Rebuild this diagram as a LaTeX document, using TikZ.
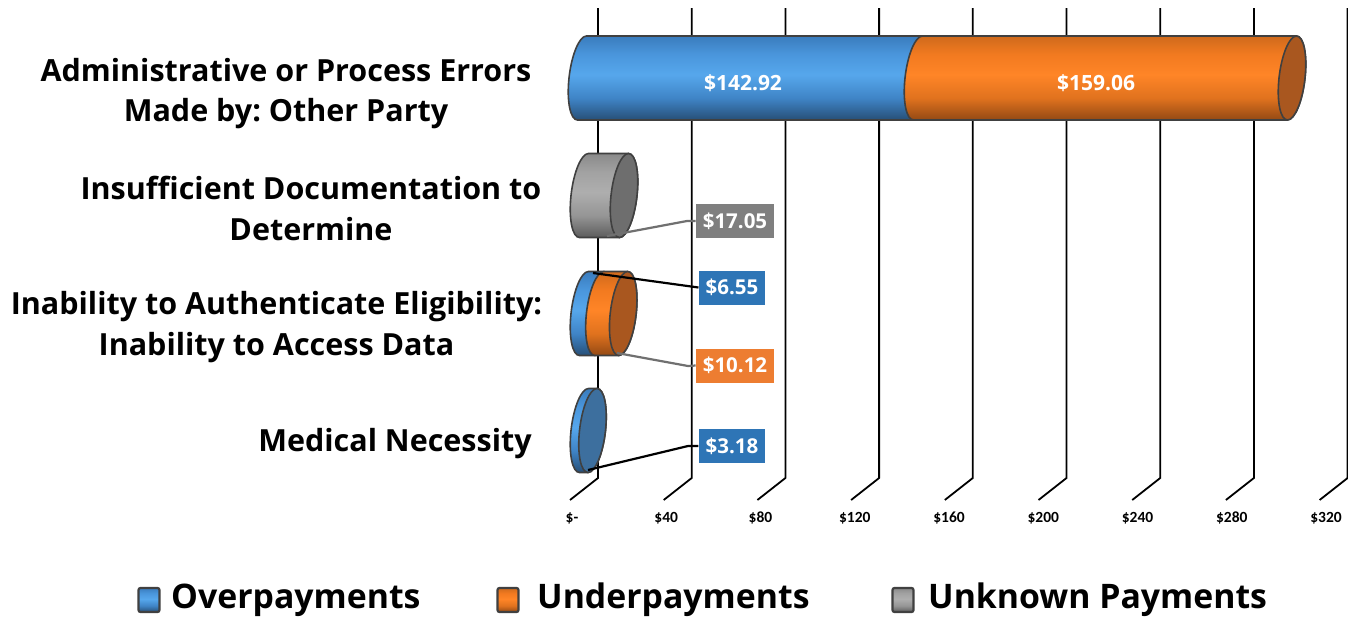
\documentclass[tikz,border=0pt]{standalone}
\usepackage{fontspec}
\setmainfont{Open Sans}
\newfontfamily\axisfont{Carlito}
\frenchspacing
\definecolor{blueTop}{HTML}{3A7CBD}
\definecolor{blueUp}{HTML}{4A96DC}
\definecolor{blueMid}{HTML}{56A7EC}
\definecolor{blueLow}{HTML}{3F84C6}
\definecolor{blueBot}{HTML}{274F77}
\definecolor{blueEnd}{HTML}{3D6F9E}
\definecolor{orTop}{HTML}{CF6A1C}
\definecolor{orUp}{HTML}{F27A20}
\definecolor{orMid}{HTML}{FF8527}
\definecolor{orLow}{HTML}{E0721E}
\definecolor{orBot}{HTML}{934914}
\definecolor{orEnd}{HTML}{A9571F}
\definecolor{grTop}{HTML}{8A8A8A}
\definecolor{grUp}{HTML}{A2A2A2}
\definecolor{grMid}{HTML}{AEAEAE}
\definecolor{grLow}{HTML}{959595}
\definecolor{grBot}{HTML}{5C5C5C}
\definecolor{grEnd}{HTML}{6E6E6E}
\definecolor{edge}{HTML}{404040}
\definecolor{lblBlue}{HTML}{2E75B6}
\definecolor{lblOr}{HTML}{ED7D31}
\definecolor{lblGray}{HTML}{7F7F7F}
\definecolor{leadGray}{HTML}{707070}
% vertical profiles of the cylinder bodies (path box spans 25bp..75bp)
\pgfdeclareverticalshading{bluecyl}{100bp}{color(0bp)=(blueBot); color(25bp)=(blueBot); color(38bp)=(blueLow); color(52bp)=(blueMid); color(64bp)=(blueUp); color(75bp)=(blueTop); color(100bp)=(blueTop)}
\pgfdeclareverticalshading{orcyl}{100bp}{color(0bp)=(orBot); color(25bp)=(orBot); color(38bp)=(orLow); color(52bp)=(orMid); color(64bp)=(orUp); color(75bp)=(orTop); color(100bp)=(orTop)}
\pgfdeclareverticalshading{grcyl}{100bp}{color(0bp)=(grBot); color(25bp)=(grBot); color(38bp)=(grLow); color(52bp)=(grMid); color(64bp)=(grUp); color(75bp)=(grTop); color(100bp)=(grTop)}
\tikzset{
  seg/.style={draw=edge, line width=1.6pt, line join=round},
  bluebody/.style={seg, shading=bluecyl},
  orbody/.style={seg, shading=orcyl},
  grbody/.style={seg, shading=grcyl},
  gridline/.style={line width=1.8pt, black},
  catlabel/.style={align=center, font=\bfseries\fontsize{30.5}{40.5}\selectfont, inner sep=0pt},
  barval/.style={text=white, font=\bfseries\fontsize{21}{24}\selectfont, inner sep=0pt},
  boxval/.style={text=white, font=\bfseries\fontsize{20.5}{22}\selectfont, inner xsep=7pt, inner ysep=0pt, minimum height=34pt},
  axlabel/.style={font=\axisfont\bfseries\fontsize{15.5}{18}\selectfont, inner sep=0pt},
  leader/.style={line width=2.2pt},
  legbox/.style={draw=edge, line width=2.2pt, rounded corners=2pt, minimum width=21pt, minimum height=24pt, inner sep=0pt},
  legtext/.style={anchor=west, font=\bfseries\fontsize{33.8}{38}\selectfont, inner sep=0pt}
}
% one cylinder segment between end-centres #1 and #2, style #3
\newcommand\cylpiece[3]{%
  \path[#3] (#1,-42) arc[start angle=270, end angle=90, x radius=13, y radius=42]
    -- (#2,42) arc[start angle=90, end angle=-90, x radius=13, y radius=42] -- cycle;}
\newcommand\cylcap[2]{%
  \path[seg, fill=#2] (#1,0) ellipse[x radius=13, y radius=42];}
\begin{document}
\begin{tikzpicture}[x=1pt, y=-1pt]
\useasboundingbox[fill=white] (0,0) rectangle (1348,619);

% value gridlines of the back wall and floor
\foreach \i in {0,...,8} {
  \draw[gridline] ({598+93.7*\i},8) -- ({598+93.7*\i},478) -- ({570+93.7*\i},500);
}

% axis labels
\foreach \i/\t in {0/{\$-},1/{\$40},2/{\$80},3/{\$120},4/{\$160},5/{\$200},6/{\$240},7/{\$280},8/{\$320}} {
  \node[axlabel] (ax\i) at ({572+94.25*\i},518) {\t};
}

% Administrative or Process Errors
\begin{scope}[shift={(0,78)}, xslant=0.107]
  \cylpiece{582}{918}{bluebody}
  \cylpiece{918}{1292}{orbody}
  \cylcap{1292}{orEnd}
\end{scope}
\node[barval] (v1) at (743,83) {\$142.92};
\node[barval] (v2) at (1096,83) {\$159.06};

% Insufficient Documentation
\begin{scope}[shift={(0,195.5)}, xslant=0.107]
  \cylpiece{584}{624}{grbody}
  \cylcap{624}{grEnd}
\end{scope}

% Inability to Authenticate Eligibility
\begin{scope}[shift={(0,313.5)}, xslant=0.107]
  \cylpiece{584}{599.4}{bluebody}
  \cylpiece{599.4}{623.2}{orbody}
  \cylcap{623.2}{orEnd}
\end{scope}

% Medical Necessity
\begin{scope}[shift={(0,430.5)}, xslant=0.107]
  \cylpiece{584}{592.5}{bluebody}
  \cylcap{592.5}{blueEnd}
\end{scope}

% data labels in boxes
\node[boxval, fill=lblGray] (b1) at (735,221) {\$17.05};
\node[boxval, fill=lblBlue] (b2) at (732,287.5) {\$6.55};
\node[boxval, fill=lblOr] (b3) at (735,365.5) {\$10.12};
\node[boxval, fill=lblBlue] (b4) at (732,446) {\$3.18};

% leader lines
\coordinate (p1) at (607,236); \coordinate (k1) at (687,221);
\coordinate (p2) at (593,273);
\coordinate (p3) at (617,353); \coordinate (k3) at (688,366);
\coordinate (p4) at (588,470); \coordinate (k4) at (688,446);
\draw[leader, leadGray] (p1) -- (k1) -- (b1.west);
\draw[leader, black] (p2) -- (b2.west);
\draw[leader, leadGray] (p3) -- (k3) -- (b3.west);
\draw[leader, black] (p4) -- (k4) -- (b4.west);

% category labels
\node[catlabel] (c1) at (286,93.5) {Administrative or Process Errors\\Made by: Other Party};
\node[catlabel] (c2) at (311,208.5) {Insufficient Documentation to\\Determine};
\node[catlabel] (c3) at (276.5,327) {Inability to Authenticate Eligibility:\\Inability to Access Data};
\node[catlabel] (c4) at (395,444) {Medical Necessity};

% legend
\node[legbox, shading=bluecyl] (l1) at (149,600) {};
\node[legtext] (t1) at (171,600) {Overpayments};
\node[legbox, shading=orcyl] (l2) at (508,600) {};
\node[legtext] (t2) at (537,600) {Underpayments};
\node[legbox, shading=grcyl] (l3) at (903,600) {};
\node[legtext] (t3) at (928,600) {Unknown Payments};
\end{tikzpicture}
\end{document}
